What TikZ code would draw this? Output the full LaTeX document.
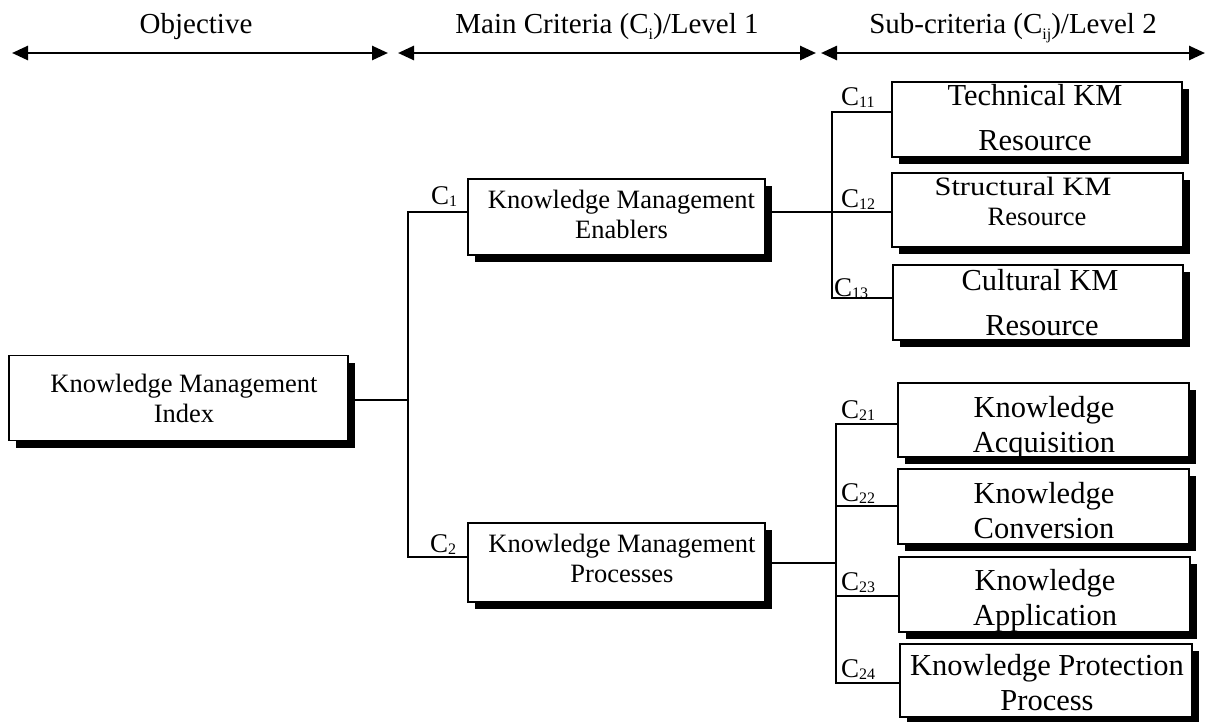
\documentclass[tikz,border=0pt]{standalone}
\usepackage{fontspec}
\setmainfont{Liberation Serif}
\usetikzlibrary{arrows.meta,shadows}
\newcommand{\mysub}[1]{\raisebox{-0.22em}{\fontsize{16}{16}\selectfont #1}}
\newcommand{\lblsub}[1]{\raisebox{-2pt}{\fontsize{16}{16}\selectfont #1}}
\begin{document}
\begin{tikzpicture}[x=1pt,y=-1pt,
  box/.style={draw, line width=1.3pt, fill=white, inner sep=0pt,
    drop shadow={shadow xshift=7pt, shadow yshift=-7pt, fill=black, opacity=1}},
  conn/.style={line width=1.5pt},
  hdrarrow/.style={line width=2.6pt, {Triangle[length=16pt,width=14pt]}-{Triangle[length=16pt,width=14pt]}},
  hdr/.style={anchor=base, inner sep=0pt, font=\fontsize{29}{29}\selectfont},
  lbl/.style={anchor=base west, inner sep=0pt, font=\fontsize{27}{27}\selectfont},
  tmain/.style={anchor=base, inner sep=0pt, font=\fontsize{26.5}{26.5}\selectfont},
  tsub/.style={anchor=base, inner sep=0pt, font=\fontsize{30.5}{30.5}\selectfont},
  tsmall/.style={anchor=base, inner sep=0pt, font=\fontsize{26.5}{26.5}\selectfont}]
\useasboundingbox[fill=white] (0,0) rectangle (1209,721);

% header
\node[hdr] (h1) at (196,33) {Objective};
\node[hdr] (h2) at (607,33) {Main Criteria (C\mysub{i})/Level 1};
\node[hdr] (h3) at (1013,33) {Sub-criteria (C\mysub{ij})/Level 2};
\coordinate (a1l) at (12,53);  \coordinate (a1r) at (388,53);
\coordinate (a2l) at (398,53); \coordinate (a2r) at (816,53);
\coordinate (a3l) at (821,53); \coordinate (a3r) at (1205,53);
\draw[hdrarrow] (a1l) -- (a1r);
\draw[hdrarrow] (a2l) -- (a2r);
\draw[hdrarrow] (a3l) -- (a3r);

% boxes
\node[box, minimum width=339pt, minimum height=85pt] (kmi) at (178.5,398) {};
\node[box, minimum width=297pt, minimum height=76pt] (kme) at (616.5,217) {};
\node[box, minimum width=297pt, minimum height=79pt] (kmp) at (616.5,562.5) {};
\node[box, minimum width=290pt, minimum height=75pt] (tech) at (1037,119.5) {};
\node[box, minimum width=291pt, minimum height=74pt] (struct) at (1037.5,210) {};
\node[box, minimum width=290pt, minimum height=75pt] (cult) at (1038,302.5) {};
\node[box, minimum width=291pt, minimum height=74pt] (acq) at (1043.5,420) {};
\node[box, minimum width=291pt, minimum height=75pt] (conv) at (1043.5,506.5) {};
\node[box, minimum width=291pt, minimum height=75pt] (appl) at (1044.5,594.5) {};
\node[box, minimum width=292pt, minimum height=73pt] (prot) at (1046,680.5) {};

% texts (clipped to the boxes)
\begin{scope}
\clip ([shift={(1pt,-1pt)}]kmi.north west) rectangle ([shift={(-1pt,1pt)}]kmi.south east);
\node[tmain] (kmi1) at (184,392) {Knowledge Management};
\node[tmain] (kmi2) at (184,422) {Index};
\end{scope}
\begin{scope}
\clip ([shift={(1pt,-1pt)}]kme.north west) rectangle ([shift={(-1pt,1pt)}]kme.south east);
\node[tmain] (kme1) at (621.5,208) {Knowledge Management};
\node[tmain] (kme2) at (621.5,238) {Enablers};
\end{scope}
\begin{scope}
\clip ([shift={(1pt,-1pt)}]kmp.north west) rectangle ([shift={(-1pt,1pt)}]kmp.south east);
\node[tmain] (kmp1) at (622,552) {Knowledge Management};
\node[tmain] (kmp2) at (622,582) {Processes};
\end{scope}
\begin{scope}
\clip ([shift={(1pt,-1pt)}]tech.north west) rectangle ([shift={(-1pt,1pt)}]tech.south east);
\node[tsub] (tech1) at (1035,105) {Technical KM};
\node[tsub] (tech2) at (1035,150) {Resource};
\end{scope}
\begin{scope}
\clip ([shift={(1pt,-1pt)}]struct.north west) rectangle ([shift={(-1pt,1pt)}]struct.south east);
\node[tsmall] (struct1) at (1023,195) {\scalebox{1.15}[1]{Structural KM}};
\node[tsmall] (struct2) at (1037,225) {Resource};
\end{scope}
\begin{scope}
\clip ([shift={(1pt,-1pt)}]cult.north west) rectangle ([shift={(-1pt,1pt)}]cult.south east);
\node[tsub] (cult1) at (1040,290) {Cultural KM};
\node[tsub] (cult2) at (1042,335) {Resource};
\end{scope}
\begin{scope}
\clip ([shift={(1pt,-1pt)}]acq.north west) rectangle ([shift={(-1pt,1pt)}]acq.south east);
\node[tsub] (acq1) at (1044,417) {Knowledge};
\node[tsub] (acq2) at (1044,452) {Acquisition};
\end{scope}
\begin{scope}
\clip ([shift={(1pt,-1pt)}]conv.north west) rectangle ([shift={(-1pt,1pt)}]conv.south east);
\node[tsub] (conv1) at (1044,503) {Knowledge};
\node[tsub] (conv2) at (1044,538) {Conversion};
\end{scope}
\begin{scope}
\clip ([shift={(1pt,-1pt)}]appl.north west) rectangle ([shift={(-1pt,1pt)}]appl.south east);
\node[tsub] (appl1) at (1045,590) {Knowledge};
\node[tsub] (appl2) at (1045,625) {Application};
\end{scope}
\begin{scope}
\clip ([shift={(1pt,-1pt)}]prot.north west) rectangle ([shift={(-1pt,1pt)}]prot.south east);
\node[tsub] (prot1) at (1047,675) {Knowledge Protection};
\node[tsub] (prot2) at (1047,710) {Process};
\end{scope}

% connectors level 1
\coordinate (j0) at (408,400);
\coordinate (j1) at (408,212);
\coordinate (j2) at (408,557);
\draw[conn] (kmi.east |- j0) -- (j0);
\draw[conn] (kme.west |- j1) -- (j1) -- (j2) -- (kmp.west |- j2);

% connectors level 2 (enablers)
\coordinate (k1) at (832,112);
\coordinate (k2) at (832,212);
\coordinate (k3) at (832,298);
\draw[conn] (kme.east |- k2) -- (k2);
\draw[conn] (tech.west |- k1) -- (k1) -- (k3) -- (cult.west |- k3);
\draw[conn] (k2) -- (struct.west |- k2);

% connectors level 2 (processes)
\coordinate (m0) at (836,563);
\coordinate (m1) at (836,424);
\coordinate (m2) at (836,506);
\coordinate (m3) at (836,596);
\coordinate (m4) at (836,683);
\draw[conn] (kmp.east |- m0) -- (m0);
\draw[conn] (acq.west |- m1) -- (m1) -- (m4) -- (prot.west |- m4);
\draw[conn] (m2) -- (conv.west |- m2);
\draw[conn] (m3) -- (appl.west |- m3);

% labels
\node[lbl] (c1) at (431,204) {C\lblsub{1}};
\node[lbl] (c2) at (430,552) {C\lblsub{2}};
\node[lbl] (c11) at (841,105) {C\lblsub{11}};
\node[lbl] (c12) at (841,207) {C\lblsub{12}};
\node[lbl] (c13) at (834,296) {C\lblsub{13}};
\node[lbl] (c21) at (841,418) {C\lblsub{21}};
\node[lbl] (c22) at (841,501) {C\lblsub{22}};
\node[lbl] (c23) at (841,590) {C\lblsub{23}};
\node[lbl] (c24) at (841,677) {C\lblsub{24}};
\end{tikzpicture}
\end{document}
